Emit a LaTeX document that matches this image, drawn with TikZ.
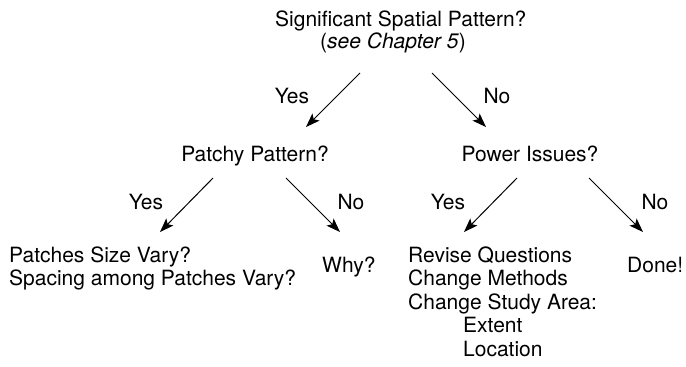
\documentclass[tikz,border=0pt]{standalone}
\usepackage{fontspec}
\setmainfont{TeX Gyre Heros}
\usetikzlibrary{arrows.meta}
\begin{document}
\begin{tikzpicture}[x=1pt,y=-1pt,
  txt/.style={inner sep=0pt,font=\fontsize{21}{23.5}\selectfont},
  lbl/.style={txt,anchor=base},
  item/.style={txt,anchor=base west},
  branch/.style={line width=1pt,-{Stealth[length=14pt,width=10pt,inset=3pt]}}]
\useasboundingbox (0,0) rectangle (686,367);

% root question
\node[item] (root) at (275,26) {Significant Spatial Pattern?};
\node[item] (rootref) at (320,48) {(\textit{see Chapter 5})};

% second level
\node[lbl] (patchy) at (255,161) {Patchy Pattern?};
\node[lbl] (power) at (530,161) {Power Issues?};

% leaves under "Patchy Pattern?"
\node[item] (size) at (9,262) {Patches Size Vary?};
\node[item] (spacing) at (9,285.5) {Spacing among Patches Vary?};
\node[item] (why) at (322,272) {Why?};

% leaves under "Power Issues?"
\node[item] (revise) at (408,262) {Revise Questions};
\node[item] (methods) at (408,285.5) {Change Methods};
\node[item] (area) at (408,309) {Change Study Area:};
\node[item] (extent) at (463,332.5) {Extent};
\node[item] (location) at (463,356) {Location};
\node[item] (done) at (627,272) {Done!};

% arrow end points
\coordinate (r1) at (360,73);  \coordinate (r1e) at (306,127);
\coordinate (r2) at (432,73);  \coordinate (r2e) at (486,127);
\coordinate (p1) at (213,178); \coordinate (p1e) at (160,232);
\coordinate (p2) at (286,178); \coordinate (p2e) at (340,232);
\coordinate (q1) at (517,178); \coordinate (q1e) at (464,232);
\coordinate (q2) at (589,178); \coordinate (q2e) at (643,232);

\draw[branch] (r1) -- (r1e);
\draw[branch] (r2) -- (r2e);
\draw[branch] (p1) -- (p1e);
\draw[branch] (p2) -- (p2e);
\draw[branch] (q1) -- (q1e);
\draw[branch] (q2) -- (q2e);

% branch labels
\node[lbl] (y1) at (292,103) {Yes};
\node[lbl] (n1) at (497,103) {No};
\node[lbl] (y2) at (146,209) {Yes};
\node[lbl] (n2) at (351,209) {No};
\node[lbl] (y3) at (448,209) {Yes};
\node[lbl] (n3) at (655,209) {No};
\end{tikzpicture}
\end{document}
